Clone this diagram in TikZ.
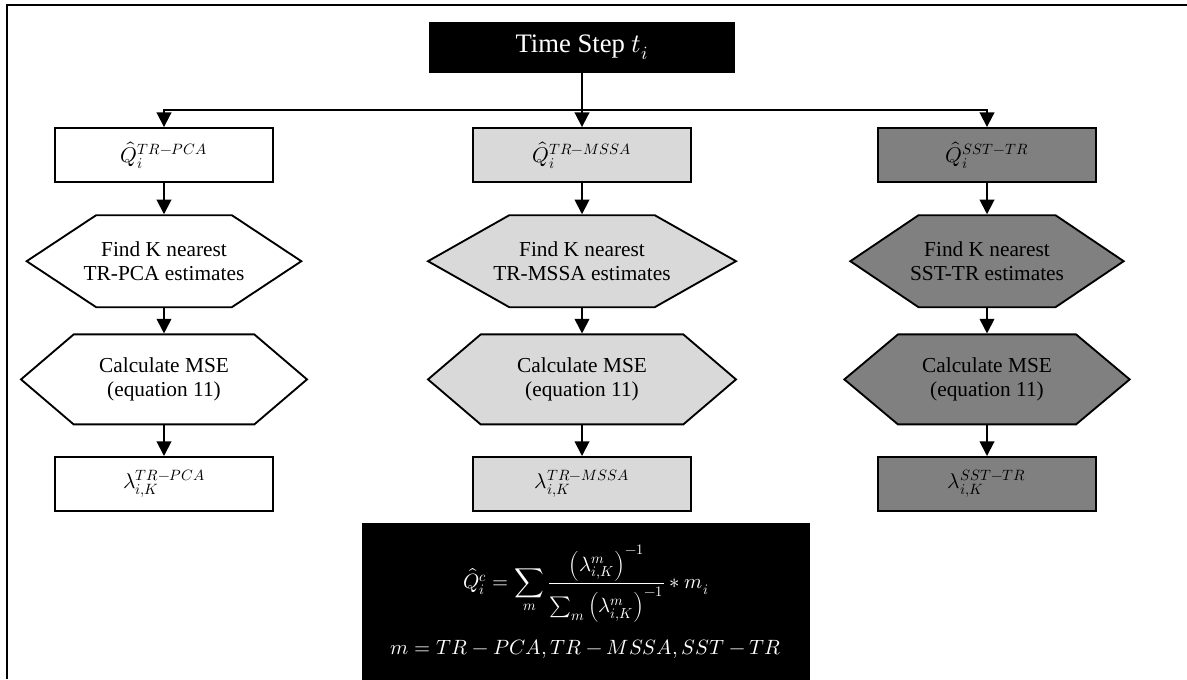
\documentclass[tikz,border=0pt]{standalone}
\usepackage{fontspec}
\usepackage{unicode-math}
\setmainfont{Liberation Serif}
\setmathfont{Latin Modern Math}
\usetikzlibrary{positioning,shapes.symbols,arrows.meta}
\definecolor{lightfill}{HTML}{D9D9D9}
\definecolor{darkfill}{HTML}{808080}

\begin{document}
\begin{tikzpicture}[
    x=0.75pt, y=-0.75pt,
    qbox/.style={draw, line width=1.4pt, minimum width=163.5pt, minimum height=40.5pt, inner sep=2pt, font=\fontsize{16}{19}\selectfont},
    hexa/.style={draw, line width=1.4pt, shape=signal, signal to=east and west, signal pointer angle=#1, inner sep=0pt, minimum height=69pt},
    hexa/.default=67,
    txt/.style={align=center, font=\fontsize{16}{18.5}\selectfont},
    arr/.style={line width=1.4pt, -{Triangle[length=11pt,width=11pt]}}
  ]
\useasboundingbox (0,0) rectangle (1187,679);

% Outer frame (cut off at right and bottom)
\draw[line width=1.5pt] (7,679) -- (7,5) -- (1187,5);

% Time step
\node[fill=black, text=white, minimum width=230pt, minimum height=38pt, font=\fontsize{20}{23}\selectfont] (tstep) at (582,47.5) {Time Step $t_i$};
\coordinate (split) at (582,110);

% Top estimates
\node[qbox] (q-pca) at (164,155) {$\hat{Q}_i^{TR-PCA}$};
\node[qbox, fill=lightfill] (q-mssa) at (582,155) {$\hat{Q}_i^{TR-MSSA}$};
\node[qbox, fill=darkfill] (q-sst) at (987,155) {$\hat{Q}_i^{SST-TR}$};

% K nearest
\node[hexa=67, minimum width=206pt, below=23.5pt of q-pca,
      label={[txt]center:Find K nearest\\TR-PCA estimates}] (near-pca) {};
\node[hexa=59, minimum width=231pt, fill=lightfill, below=23.5pt of q-mssa,
      label={[txt]center:Find K nearest\\TR-MSSA estimates}] (near-mssa) {};
\node[hexa=68, minimum width=205pt, fill=darkfill, below=23.5pt of q-sst,
      label={[txt]center:Find K nearest\\SST-TR estimates}] (near-sst) {};

% MSE
\node[hexa=81, minimum width=214.5pt, minimum height=67.5pt, below=19pt of near-pca,
      label={[txt]center:Calculate MSE\\(equation 11)}] (mse-pca) {};
\node[hexa=81, minimum width=231pt, minimum height=67.5pt, fill=lightfill, below=19pt of near-mssa,
      label={[txt]center:Calculate MSE\\(equation 11)}] (mse-mssa) {};
\node[hexa=80, minimum width=214pt, minimum height=67.5pt, fill=darkfill, below=19pt of near-sst,
      label={[txt]center:Calculate MSE\\(equation 11)}] (mse-sst) {};

% Lambda
\node[qbox, below=23pt of mse-pca] (lam-pca) {$\lambda_{i,K}^{TR-PCA}$};
\node[qbox, fill=lightfill, below=23pt of mse-mssa] (lam-mssa) {$\lambda_{i,K}^{TR-MSSA}$};
\node[qbox, fill=darkfill, below=23pt of mse-sst] (lam-sst) {$\lambda_{i,K}^{SST-TR}$};

% Combination
\node[fill=black, text=white, minimum width=336pt, minimum height=118.5pt, align=center, font=\fontsize{15.5}{19}\selectfont, below=8pt of lam-mssa, xshift=3pt] (combo) {$\displaystyle \hat{Q}_i^c = \sum_m \frac{\left(\lambda_{i,K}^m\right)^{-1}}{\sum_m \left(\lambda_{i,K}^m\right)^{-1}} * m_i$\\[12pt]
$m = TR-PCA, TR-MSSA, SST-TR$};

% Arrows
\draw[arr] (tstep) -- (q-mssa);
\draw[arr] (split) -| (q-pca);
\draw[arr] (split) -| (q-sst);
\foreach \c in {pca,mssa,sst} {
    \draw[arr] (q-\c) -- (near-\c);
    \draw[arr] (near-\c) -- (mse-\c);
    \draw[arr] (mse-\c) -- (lam-\c);
}

\end{tikzpicture}
\end{document}
